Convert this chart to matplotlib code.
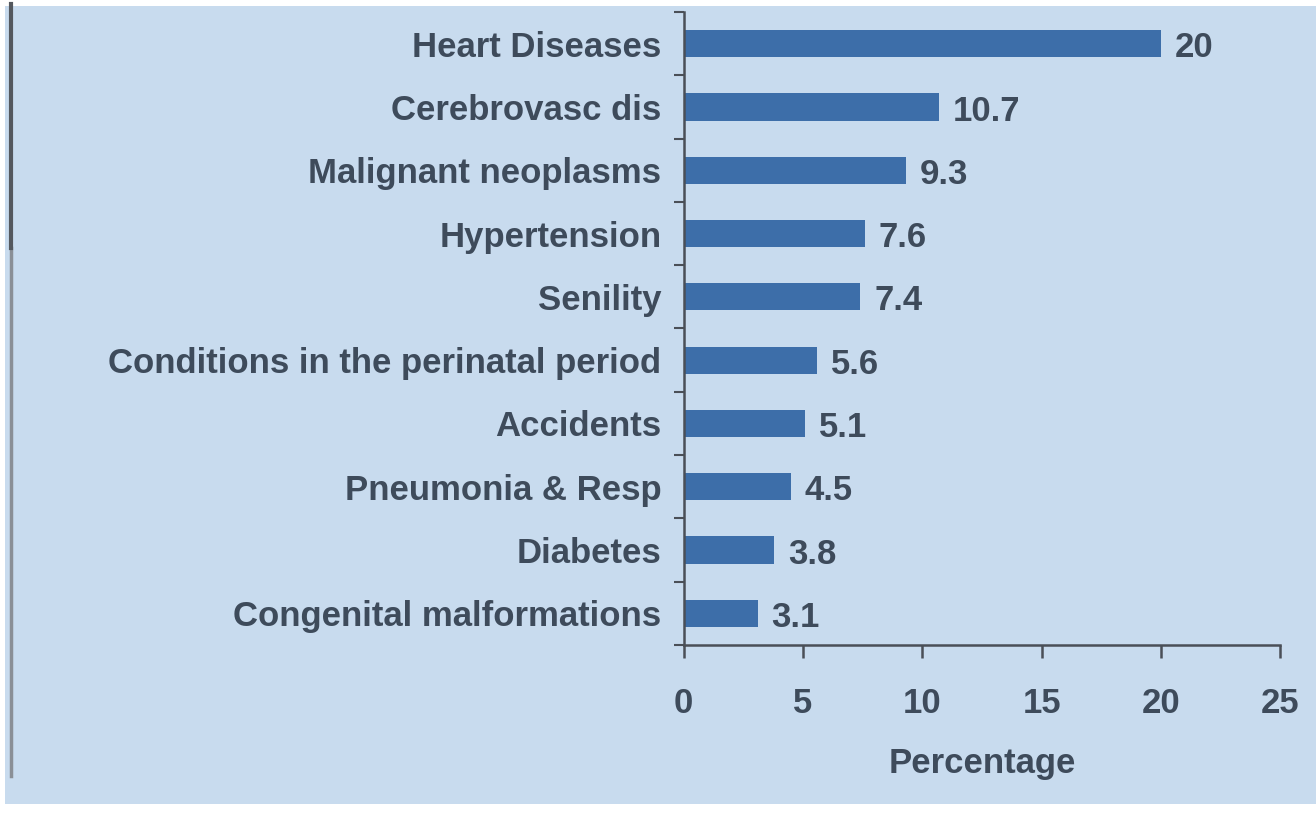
import matplotlib.pyplot as plt
import numpy as np

# Data (top to bottom)
causes = ['Heart Diseases', 'Cerebrovasc dis', 'Malignant neoplasms', 'Hypertension',
          'Senility', 'Conditions in the perinatal period', 'Accidents',
          'Pneumonia & Resp', 'Diabetes', 'Congenital malformations']
percentages = [20, 10.7, 9.3, 7.6, 7.4, 5.6, 5.1, 4.5, 3.8, 3.1]
value_labels = ['20', '10.7', '9.3', '7.6', '7.4', '5.6', '5.1', '4.5', '3.8', '3.1']
x_ticks = [0, 5, 10, 15, 20, 25]

bg = '#c8dbee'
bar_color = '#3d6ea9'
text_color = '#3e4b5b'
axis_color = '#4a4f57'

plt.rcParams['font.family'] = ['Liberation Sans', 'DejaVu Sans']
plt.rcParams['font.weight'] = 'bold'

fig = plt.figure(figsize=(13.16, 8.25), dpi=100)
fig.patch.set_facecolor('white')

# scanned page background and the dark edge on the left
fig.patches.append(plt.Rectangle((0.004, 0.025), 0.996, 0.968, transform=fig.transFigure,
                                 facecolor=bg, edgecolor='none', zorder=-2))
fig.lines.append(plt.Line2D([0.008, 0.008], [0.06, 0.70], transform=fig.transFigure,
                            color='#8a8f96', linewidth=2.5, zorder=-1))
fig.lines.append(plt.Line2D([0.008, 0.008], [0.70, 0.995], transform=fig.transFigure,
                            color='#54585e', linewidth=3, zorder=-1))

ax = fig.add_axes([0.5195, 0.2182, 0.4535, 0.7673])
ax.set_facecolor('none')

y = np.arange(len(causes))
ax.barh(y, percentages, height=0.43, color=bar_color, zorder=2)

for yi, v, lab in zip(y, percentages, value_labels):
    ax.annotate(lab, (v, yi), xytext=(10, -3), textcoords='offset points',
                ha='left', va='center', fontsize=25, color=text_color, fontweight='bold')

ax.set_xlim(0, 25)
ax.set_ylim(len(causes) - 0.5, -0.5)
ax.set_xticks(x_ticks)
ax.set_xticklabels([str(t) for t in x_ticks], fontsize=25, color=text_color, fontweight='bold')
ax.set_yticks(y)
ax.set_yticklabels(causes, fontsize=25, color=text_color, fontweight='bold')
ax.set_yticks(np.arange(len(causes) + 1) - 0.5, minor=True)

ax.tick_params(axis='y', which='major', length=0, pad=16)
ax.tick_params(axis='y', which='minor', length=7, width=1.5, color=axis_color, direction='out')
ax.tick_params(axis='x', which='major', length=9, width=1.8, color=axis_color,
               direction='out', pad=21)

ax.set_xlabel('Percentage', fontsize=25, color=text_color, fontweight='bold', labelpad=20)

for side in ['top', 'right']:
    ax.spines[side].set_visible(False)
for side in ['left', 'bottom']:
    ax.spines[side].set_color(axis_color)
    ax.spines[side].set_linewidth(1.8)

fig.savefig('out.png', dpi=100, facecolor=fig.get_facecolor())
